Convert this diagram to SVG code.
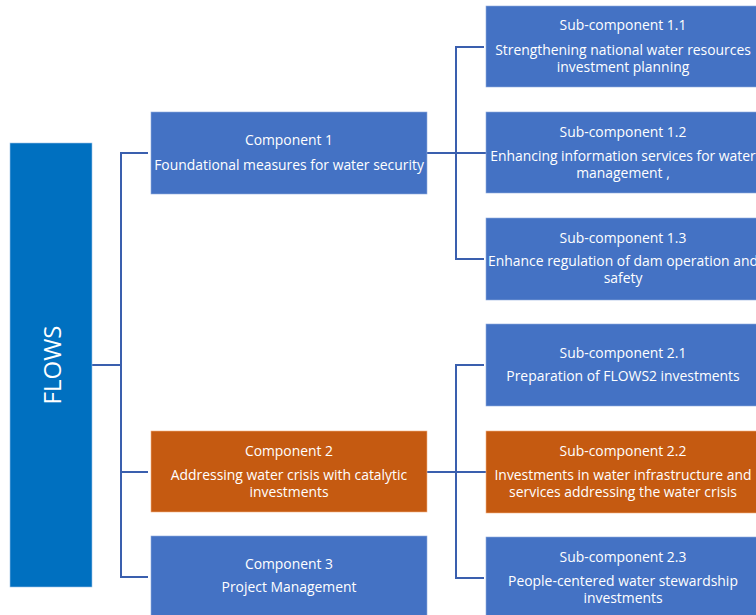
<svg xmlns="http://www.w3.org/2000/svg" width="756" height="615" viewBox="0 0 756 615">
<style>
.box{fill:#4472C4;stroke:#8FAADC;stroke-width:0.6}
.org{fill:#C55A11;stroke:#F4B183;stroke-width:0.6}
.t{font-family:"Open Sans","Noto Sans",sans-serif;font-size:13.9px;fill:#fff;text-anchor:middle}
.c{fill:none;stroke:#3A5FAE;stroke-width:2}
</style>
<rect width="756" height="615" fill="#fff"/>
<g id="connectors">
<path class="c" d="M92 365H121M148 153H121V577H148M121 472H148"/>
<path class="c" d="M427 153H486M484 47H456V259H484"/>
<path class="c" d="M427 472H486M484 365H456V578H484"/>
</g>
<g id="flows">
<rect x="10" y="143" width="82" height="444" fill="#0070C0" stroke="#9DC3E6" stroke-width="0.6"/>
<text class="t" style="font-size:24px" transform="translate(61 365) rotate(-90)">FLOWS</text>
</g>
<g id="c1">
<rect class="box" x="151" y="112" width="276" height="82"/>
<text class="t" x="289" y="145">Component 1</text>
<text class="t" x="289" y="170">Foundational measures for water security</text>
</g>
<g id="c2">
<rect class="org" x="151" y="431" width="276" height="81"/>
<text class="t" x="289" y="456">Component 2</text>
<text class="t" x="289" y="480">Addressing water crisis with catalytic</text>
<text class="t" x="289" y="497">investments</text>
</g>
<g id="c3">
<rect class="box" x="151" y="536" width="276" height="82"/>
<text class="t" x="289" y="569">Component 3</text>
<text class="t" x="289" y="592">Project Management</text>
</g>
<g id="s11">
<rect class="box" x="486" y="6" width="276" height="81"/>
<text class="t" x="623" y="30">Sub-component 1.1</text>
<text class="t" x="623" y="55">Strengthening national water resources</text>
<text class="t" x="623" y="72">investment planning</text>
</g>
<g id="s12">
<rect class="box" x="486" y="112" width="276" height="81"/>
<text class="t" x="623" y="137">Sub-component 1.2</text>
<text class="t" x="623" y="161">Enhancing information services for water</text>
<text class="t" x="623" y="178">management ,</text>
</g>
<g id="s13">
<rect class="box" x="486" y="218" width="276" height="82"/>
<text class="t" x="623" y="243">Sub-component 1.3</text>
<text class="t" x="623" y="266">Enhance regulation of dam operation and</text>
<text class="t" x="623" y="283">safety</text>
</g>
<g id="s21">
<rect class="box" x="486" y="324" width="276" height="82"/>
<text class="t" x="623" y="358">Sub-component 2.1</text>
<text class="t" x="623" y="381">Preparation of FLOWS2 investments</text>
</g>
<g id="s22">
<rect class="org" x="486" y="431" width="276" height="82"/>
<text class="t" x="623" y="456">Sub-component 2.2</text>
<text class="t" x="623" y="480">Investments in water infrastructure and</text>
<text class="t" x="623" y="497">services addressing the water crisis</text>
</g>
<g id="s23">
<rect class="box" x="486" y="537" width="276" height="82"/>
<text class="t" x="623" y="562">Sub-component 2.3</text>
<text class="t" x="623" y="586">People-centered water stewardship</text>
<text class="t" x="623" y="603">investments</text>
</g>
</svg>
